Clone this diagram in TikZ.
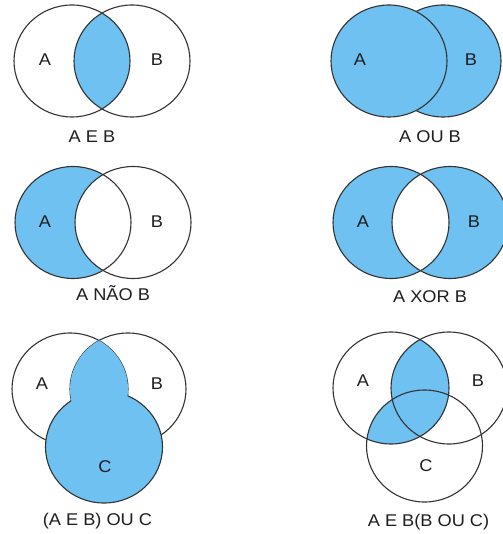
\documentclass[tikz,border=0pt]{standalone}
\usepackage{fontspec}
\setmainfont{Liberation Sans}[FakeStretch=1.07]
\definecolor{vblue}{HTML}{6EC1F0}
\definecolor{vline}{HTML}{333333}
\definecolor{vtext}{HTML}{1E1E1E}
\begin{document}
\begin{tikzpicture}[x=1pt,y=-1pt,
  outline/.style={draw=vline,line width=1.1pt},
  area/.style={fill=vblue},
  lbl/.style={font=\fontsize{17}{20}\selectfont,text=vtext,inner sep=0pt},
  captxt/.style={font=\fontsize{17}{20}\selectfont,text=vtext,inner sep=0pt}]
\useasboundingbox (0,0) rectangle (502,534);
\fill[white] (0,0) rectangle (502,534);
% ---------- top left: A E B
\def\tlA{(72,61) ellipse [x radius=58pt, y radius=56pt]}
\def\tlB{(132,61) ellipse [x radius=58pt, y radius=56pt]}
\begin{scope}\clip \tlA; \fill[area] \tlB; \end{scope}
\draw[outline] \tlA; \draw[outline] \tlB;
\node[lbl] (tlLA) at (45,60) {A};
\node[lbl] (tlLB) at (157,60) {B};
\node[captxt] (tlT) at (92,137) {A E B};
% ---------- top right: A OU B (A lies over B)
\def\trA{(389,61) ellipse [x radius=58pt, y radius=56pt]}
\def\trB{(443,61) ellipse [x radius=58pt, y radius=56pt]}
\fill[area] \trB; \draw[outline] \trB;
\fill[area] \trA; \draw[outline] \trA;
\node[lbl] (trLA) at (360,60) {A};
\node[lbl] (trLB) at (471,60) {B};
\node[captxt] (trT) at (430,137) {A OU B};
% ---------- middle left: A NAO B
\def\mlA{(73,222.5) ellipse [x radius=58pt, y radius=56pt]}
\def\mlB{(133,222.5) ellipse [x radius=58pt, y radius=56pt]}
\begin{scope}\clip \mlA; \fill[area,even odd rule] \mlA \mlB; \end{scope}
\draw[outline] \mlA; \draw[outline] \mlB;
\node[lbl] (mlLA) at (45,222) {A};
\node[lbl] (mlLB) at (157,222) {B};
\node[captxt] (mlT) at (113,293) {A NÃO B};
% ---------- middle right: A XOR B
\def\mrA{(391,222.5) ellipse [x radius=58pt, y radius=56pt]}
\def\mrB{(450,222.5) ellipse [x radius=58pt, y radius=56pt]}
\fill[area,even odd rule] \mrA \mrB;
\draw[outline] \mrA; \draw[outline] \mrB;
\node[lbl] (mrLA) at (363,222) {A};
\node[lbl] (mrLB) at (474,222) {B};
\node[captxt] (mrT) at (430,297) {A XOR B};
% ---------- bottom left: (A E B) OU C
\def\blA{(70,389) ellipse [x radius=58pt, y radius=56pt]}
\def\blB{(128,389) ellipse [x radius=58pt, y radius=56pt]}
\def\blC{(104,447) ellipse [x radius=58.5pt, y radius=56pt]}
\draw[outline] \blA; \draw[outline] \blB;
\fill[area] \blC; \draw[outline] \blC;
\begin{scope}\clip \blA; \fill[area] \blB; \end{scope}
\node[lbl] (blLA) at (42,384) {A};
\node[lbl] (blLB) at (157,384) {B};
\node[lbl] (blLC) at (105,467) {C};
\node[captxt] (blT) at (97.5,521.5) {(A E B) OU C};
% ---------- bottom right: A E B(B OU C)
\def\brA{(391,388) ellipse [x radius=58pt, y radius=56pt]}
\def\brB{(449,388) ellipse [x radius=58pt, y radius=56pt]}
\def\brC{(424.5,446) ellipse [x radius=58pt, y radius=56pt]}
\begin{scope}\clip \brA; \fill[area] \brB; \fill[area] \brC; \end{scope}
\draw[outline] \brA; \draw[outline] \brB; \draw[outline] \brC;
\node[lbl] (brLA) at (363,381) {A};
\node[lbl] (brLB) at (478,381) {B};
\node[lbl] (brLC) at (426,466) {C};
\node[captxt] (brT) at (428.5,522) {A E B(B OU C)};
\end{tikzpicture}
\end{document}
